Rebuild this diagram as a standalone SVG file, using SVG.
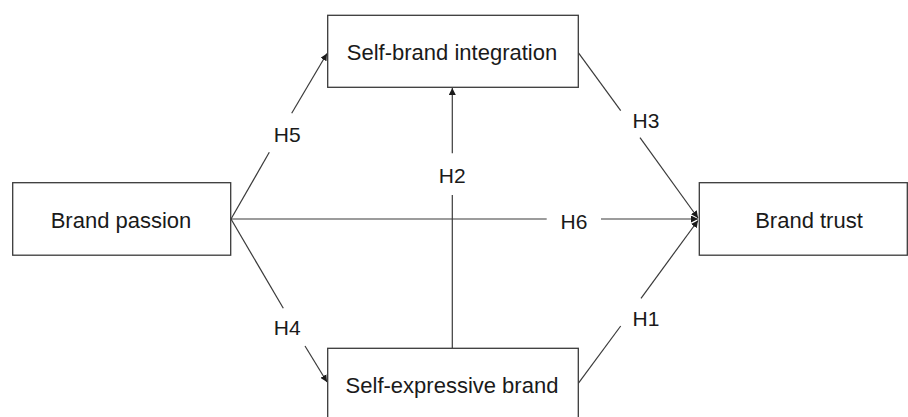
<svg xmlns="http://www.w3.org/2000/svg" width="908" height="417" viewBox="0 0 908 417">
<style>
.box{fill:#fff;stroke:#3a3a3a;stroke-width:1.3}
.lbl{font-family:"Liberation Sans",Arial,sans-serif;font-size:22px;fill:#1a1a1a;text-anchor:middle}
.h{font-family:"Liberation Sans",Arial,sans-serif;font-size:21px;fill:#1a1a1a;text-anchor:middle}
.ln{stroke:#3a3a3a;stroke-width:1.2;fill:none}
</style>
<defs>
<marker id="ah" viewBox="0 0 10 10" refX="10" refY="5" markerWidth="7" markerHeight="7" markerUnits="userSpaceOnUse" orient="auto">
<path d="M0,0 L10,5 L0,10 z" fill="#1a1a1a"/>
</marker>
</defs>
<rect width="908" height="417" fill="#fff"/>
<g id="connectors">
<line class="ln" x1="231" y1="219" x2="269.3" y2="152.3"/>
<line class="ln" x1="291.7" y1="113.3" x2="327" y2="53.5" marker-end="url(#ah)"/>
<line class="ln" x1="231" y1="219" x2="283.3" y2="308.3"/>
<line class="ln" x1="305" y1="346" x2="327" y2="382" marker-end="url(#ah)"/>
<line class="ln" x1="452.3" y1="348.3" x2="452.3" y2="195"/>
<line class="ln" x1="452.3" y1="153.3" x2="452.3" y2="88" marker-end="url(#ah)"/>
<line class="ln" x1="231" y1="219" x2="546.7" y2="219"/>
<line class="ln" x1="601" y1="219" x2="698" y2="219" marker-end="url(#ah)"/>
<line class="ln" x1="578.3" y1="52.7" x2="620.7" y2="110.7"/>
<line class="ln" x1="640" y1="137.7" x2="698" y2="218" marker-end="url(#ah)"/>
<line class="ln" x1="578.3" y1="383.3" x2="620.7" y2="326"/>
<line class="ln" x1="641" y1="298.3" x2="698" y2="220.5" marker-end="url(#ah)"/>
<text class="h" x="287.3" y="141.7">H5</text>
<text class="h" x="287.3" y="335">H4</text>
<text class="h" x="452.3" y="182.7">H2</text>
<text class="h" x="574" y="229">H6</text>
<text class="h" x="646" y="128.3">H3</text>
<text class="h" x="646" y="326">H1</text>
</g>
<g id="brand-passion">
<rect class="box" x="12.7" y="182.7" width="218" height="72.5"/>
<text class="lbl" x="121" y="227.5">Brand passion</text>
</g>
<g id="self-brand-integration">
<rect class="box" x="327.7" y="15.3" width="250.6" height="72"/>
<text class="lbl" x="452" y="60">Self-brand integration</text>
</g>
<g id="brand-trust">
<rect class="box" x="699.3" y="182.7" width="208" height="72.5"/>
<text class="lbl" x="809" y="227.5">Brand trust</text>
</g>
<g id="self-expressive-brand">
<rect class="box" x="327.7" y="348.3" width="250.6" height="75"/>
<text class="lbl" x="452" y="393">Self-expressive brand</text>
</g>
</svg>
